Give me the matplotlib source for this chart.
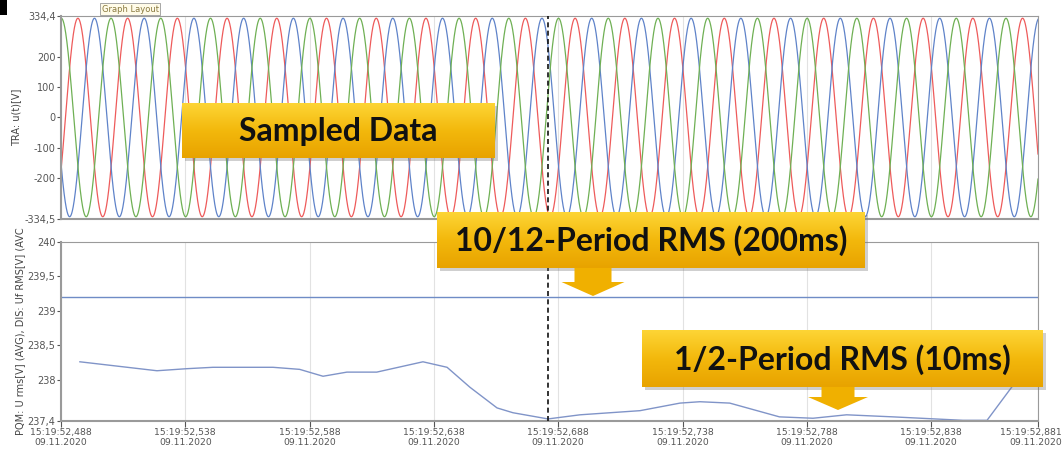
import numpy as np
import matplotlib
matplotlib.use('Agg')
import matplotlib.pyplot as plt
import matplotlib.transforms as mtransforms
from matplotlib.patches import Rectangle, Polygon
from matplotlib.colors import LinearSegmentedColormap

# time axis (ms after 15:19:52) and tick labels
t_start = 488
t_end = 881
tick_ms = [488, 538, 588, 638, 688, 738, 788, 838, 881]
tick_labels = ['15:19:52,%d\n09.11.2020' % m for m in tick_ms]
cursor_ms = 684

# sampled voltage (3 phases, 50 Hz)
wave_amp = 327.0
mains_hz = 50.0
red_peak_ms = 494.8
phase_names = ['L1', 'L2', 'L3']
phase_shift_ms = [0.0, 6.67, 13.33]
phase_colors = ['#ee5b5b', '#5f83c9', '#6fb054']

# rms values
rms200_v = 239.2
rms_ms = [495.6, 526.6, 538.7, 549.1, 573.3, 584.0, 593.4, 603.0, 615.0, 633.6,
          643.3, 652.5, 663.4, 669.8, 683.9, 696.8, 720.9, 737.0, 745.0, 757.0,
          777.0, 790.5, 804.0, 822.7, 850.8, 860.5, 871.0, 880.0]
rms_v = [238.26, 238.13, 238.16, 238.18, 238.18, 238.15, 238.05, 238.11, 238.11, 238.26,
         238.18, 237.89, 237.59, 237.52, 237.43, 237.49, 237.55, 237.66, 237.68, 237.66,
         237.46, 237.44, 237.49, 237.46, 237.41, 237.41, 237.92, 238.11]

up_ticks = [334.4, 200, 100, 0, -100, -200, -334.5]
up_ticklabels = ['334,4', '200', '100', '0', '-100', '-200', '-334,5']
lo_ticks = [237.4, 238, 238.5, 239, 239.5, 240]
lo_ticklabels = ['237,4', '238', '238,5', '239', '239,5', '240']

W, H = 1063, 454
fig = plt.figure(figsize=(W / 100, H / 100), dpi=100)
fig.patch.set_facecolor('white')

def px_rect(x0, y0, x1, y1):
    return [x0 / W, 1 - y1 / H, (x1 - x0) / W, (y1 - y0) / H]

ax1 = fig.add_axes(px_rect(61, 16, 1038, 219))
ax2 = fig.add_axes(px_rect(61, 242, 1038, 421))

t = np.linspace(t_start, t_end, 6000)
for shift, col in zip(phase_shift_ms, phase_colors):
    u = wave_amp * np.cos(2 * np.pi * mains_hz * (t - red_peak_ms - shift) / 1000.0)
    ax1.plot(t, u, color=col, lw=0.9)
ax1.set_ylim(-334.5, 334.4)
ax1.set_yticks(up_ticks)
ax1.set_yticklabels(up_ticklabels)
ax1.set_ylabel('TRA: u(t)[V]', fontsize=7, color='#444')

ax2.axhline(rms200_v, color='#6f8cc6', lw=1.0)
ax2.plot(rms_ms, rms_v, color='#8094c8', lw=1.0)
ax2.set_ylim(237.4, 240)
ax2.set_yticks(lo_ticks)
ax2.set_yticklabels(lo_ticklabels)
ax2.set_ylabel('PQM: U rms[V] (AVG), DIS: Uf RMS[V] (AVC', fontsize=7, color='#444')

for ax in (ax1, ax2):
    ax.set_xlim(t_start, t_end)
    ax.set_xticks(tick_ms)
    ax.grid(axis='x', color='#e2e2e2', lw=0.8)
    ax.set_axisbelow(True)
    ax.axvline(cursor_ms, color='#111', lw=1.2, ls=(0, (3, 2)), zorder=5)
    for s in ax.spines.values():
        s.set_color('#9a9a9a')
    ax.spines['left'].set_linewidth(1.5)
    ax.spines['bottom'].set_linewidth(1.5)
    ax.tick_params(labelsize=7, colors='#555', length=3, width=0.8, pad=1)
    ax.yaxis.labelpad = 2
ax1.tick_params(axis='x', labelbottom=False, length=0)
ax2.set_xticklabels(tick_labels, fontsize=6.7)
ax2.tick_params(axis='x', length=4)

# last time label shifted so it stays inside the picture
last = ax2.get_xticklabels()[-1]
last.set_horizontalalignment('right')
last.set_transform(last.get_transform() + mtransforms.ScaledTranslation(24 / 100, 0, fig.dpi_scale_trans))

# overlay in pixel coordinates for the callouts
ov = fig.add_axes([0, 0, 1, 1], zorder=10)
ov.set_autoscale_on(False)
ov.set_xlim(0, W)
ov.set_ylim(H, 0)
ov.axis('off')
ov.patch.set_alpha(0)

gold = LinearSegmentedColormap.from_list('gold', ['#fdd535', '#f3b80c', '#e8a300'])
grad = np.linspace(0, 1, 64).reshape(-1, 1)

def callout(x0, y0, x1, y1, text, fs):
    ov.add_patch(Rectangle((x0 + 3, y0 + 3), x1 - x0, y1 - y0, color='#777', alpha=0.35, lw=0))
    ov.imshow(grad, cmap=gold, extent=(x0, x1, y1, y0), aspect='auto', zorder=2)
    ov.text((x0 + x1) / 2, (y0 + y1) / 2 + 1, text, ha='center', va='center', fontsize=fs,
            fontweight='bold', family=['Lato', 'DejaVu Sans'], color='#111', zorder=3)

def arrow(xc, y0, yh, y1, shaft, head):
    pts = [(xc - shaft / 2, y0), (xc + shaft / 2, y0), (xc + shaft / 2, yh), (xc + head / 2, yh),
           (xc, y1), (xc - head / 2, yh), (xc - shaft / 2, yh)]
    ov.add_patch(Polygon(pts, closed=True, color='#f0b000', lw=0, zorder=2))

callout(182, 103, 495, 158, 'Sampled Data', 23)
callout(437, 212, 865, 268, '10/12-Period RMS (200ms)', 23)
callout(642, 330, 1043, 387, '1/2-Period RMS (10ms)', 23)
arrow(593, 268, 282, 296, 37, 63)
arrow(838, 387, 397, 410, 33, 60)

ov.set_xlim(0, W)
ov.set_ylim(H, 0)

# small "Graph Layout" tag and marker
ov.text(130, 9, 'Graph Layout', ha='center', va='center', fontsize=6, color='#8a7a40',
        bbox=dict(boxstyle='square,pad=0.15', fc='#fffbe8', ec='#999', lw=0.6))
ov.add_patch(Rectangle((0, 0), 7, 15, color='black', lw=0))

plt.savefig('out.png', dpi=100)
